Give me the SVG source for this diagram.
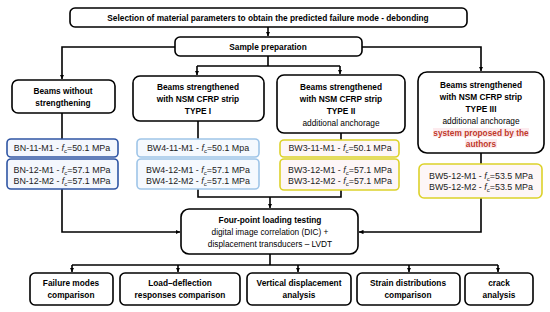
<svg xmlns="http://www.w3.org/2000/svg" width="550" height="312" viewBox="0 0 550 312">
<defs>
<marker id="ah" viewBox="0 0 6 6" refX="6" refY="3" markerWidth="4.5" markerHeight="4.5" orient="auto" markerUnits="userSpaceOnUse">
<path d="M0,0 L6,3 L0,6 z" fill="#000"/>
</marker>
<style>
.box{fill:#fff;stroke:#000;stroke-width:1.6}
.bn{fill:#f4f7fd;stroke:#2f55a4;stroke-width:1.6}
.bw4{fill:#f5f9fe;stroke:#9fc5e8;stroke-width:1.6}
.bw3{fill:#fdf6f7;stroke:#dcd22a;stroke-width:1.6}
.t{font-family:"Liberation Sans",Arial,sans-serif;font-size:8.3px;fill:#000;text-anchor:middle}
.b{font-weight:bold}
.v{font-family:"Liberation Sans",Arial,sans-serif;font-size:8.9px;fill:#222;text-anchor:middle}
.red{fill:#c0392b;font-weight:bold}
.c{fill:none;stroke:#000;stroke-width:1.6}
</style>
</defs>

<g id="connectors">
<path class="c" d="M268,27 V36" marker-end="url(#ah)"/>
<path class="c" d="M175,47 H62 V79" marker-end="url(#ah)"/>
<path class="c" d="M362,47 H481 V71" marker-end="url(#ah)"/>
<path class="c" d="M268,56 V66"/>
<path class="c" d="M197,66 H340"/>
<path class="c" d="M197,66 V75" marker-end="url(#ah)"/>
<path class="c" d="M340,66 V74" marker-end="url(#ah)"/>
<path class="c" d="M62,113 V139"/>
<path class="c" d="M198,121 V139"/>
<path class="c" d="M341,133 V140"/>
<path class="c" d="M481,153 V164"/>
<path class="c" d="M62,189 V232 H180" marker-end="url(#ah)"/>
<path class="c" d="M198,189 V197 H341 V190"/>
<path class="c" d="M270,197 V208" marker-end="url(#ah)"/>
<path class="c" d="M481,198 V232 H359" marker-end="url(#ah)"/>
<path class="c" d="M270,254 V265"/>
<path class="c" d="M72,265 H498"/>
<path class="c" d="M72,265 V272" marker-end="url(#ah)"/>
<path class="c" d="M178,265 V272" marker-end="url(#ah)"/>
<path class="c" d="M298,265 V272" marker-end="url(#ah)"/>
<path class="c" d="M409,265 V272" marker-end="url(#ah)"/>
<path class="c" d="M498,265 V272" marker-end="url(#ah)"/>
</g>

<g id="selection">
<rect class="box" x="70" y="8" width="397" height="19" rx="5"/>
<text class="t b" x="268" y="21" font-size="8.4">Selection of material parameters to obtain the predicted failure mode - debonding</text>
</g>

<g id="sample-prep">
<rect class="box" x="175" y="37" width="187" height="19" rx="5"/>
<text class="t b" x="268" y="50">Sample preparation</text>
</g>

<g id="beams-without">
<rect class="box" x="12" y="80" width="103" height="33" rx="6"/>
<text class="t b" x="63" y="94">Beams without</text>
<text class="t b" x="63" y="106">strengthening</text>
</g>

<g id="type1">
<rect class="box" x="133" y="76" width="131" height="45" rx="7"/>
<text class="t b" x="198" y="90">Beams strengthened</text>
<text class="t b" x="198" y="102">with NSM CFRP strip</text>
<text class="t b" x="198" y="114">TYPE I</text>
</g>

<g id="type2">
<rect class="box" x="277" y="75" width="128" height="58" rx="7"/>
<text class="t b" x="341" y="90">Beams strengthened</text>
<text class="t b" x="341" y="102">with NSM CFRP strip</text>
<text class="t b" x="341" y="114">TYPE II</text>
<text class="t" x="341" y="126">additional anchorage</text>
</g>

<g id="type3">
<rect class="box" x="418" y="72" width="126" height="81" rx="9"/>
<text class="t b" x="481" y="88">Beams strengthened</text>
<text class="t b" x="481" y="100">with NSM CFRP strip</text>
<text class="t b" x="481" y="112">TYPE III</text>
<text class="t" x="481" y="124">additional anchorage</text>
<rect x="433" y="128" width="96" height="9" fill="#fdebee"/>
<rect x="465" y="139" width="32" height="9" fill="#fdebee"/>
<text class="t red" x="481" y="136">system proposed by the</text>
<text class="t red" x="481" y="147">authors</text>
</g>

<g id="bn-values">
<rect class="bn" x="7" y="139" width="111" height="18" rx="4"/>
<text class="v" x="62" y="151">BN-11-M1 - <tspan font-style="italic">f</tspan><tspan font-size="6" dy="1.5">c</tspan><tspan dy="-1.5">=50.1 MPa</tspan></text>
<rect class="bn" x="7" y="159" width="111" height="30" rx="4"/>
<text class="v" x="62" y="173">BN-12-M1 - <tspan font-style="italic">f</tspan><tspan font-size="6" dy="1.5">c</tspan><tspan dy="-1.5">=57.1 MPa</tspan></text>
<text class="v" x="62" y="184">BN-12-M2 - <tspan font-style="italic">f</tspan><tspan font-size="6" dy="1.5">c</tspan><tspan dy="-1.5">=57.1 MPa</tspan></text>
</g>

<g id="bw4-values">
<rect class="bw4" x="137" y="139" width="122" height="18" rx="4"/>
<text class="v" x="198" y="151">BW4-11-M1 - <tspan font-style="italic">f</tspan><tspan font-size="6" dy="1.5">c</tspan><tspan dy="-1.5">=50.1 Mpa</tspan></text>
<rect class="bw4" x="137" y="159" width="122" height="30" rx="4"/>
<text class="v" x="198" y="173">BW4-12-M1 - <tspan font-style="italic">f</tspan><tspan font-size="6" dy="1.5">c</tspan><tspan dy="-1.5">=57.1 MPa</tspan></text>
<text class="v" x="198" y="184">BW4-12-M2 - <tspan font-style="italic">f</tspan><tspan font-size="6" dy="1.5">c</tspan><tspan dy="-1.5">=57.1 MPa</tspan></text>
</g>

<g id="bw3-values">
<rect class="bw3" x="280" y="140" width="119" height="17" rx="4"/>
<text class="v" x="340" y="151">BW3-11-M1 - <tspan font-style="italic">f</tspan><tspan font-size="6" dy="1.5">c</tspan><tspan dy="-1.5">=50.1 MPa</tspan></text>
<rect class="bw3" x="280" y="159" width="119" height="31" rx="4"/>
<text class="v" x="340" y="173">BW3-12-M1 - <tspan font-style="italic">f</tspan><tspan font-size="6" dy="1.5">c</tspan><tspan dy="-1.5">=57.1 MPa</tspan></text>
<text class="v" x="340" y="184">BW3-12-M2 - <tspan font-style="italic">f</tspan><tspan font-size="6" dy="1.5">c</tspan><tspan dy="-1.5">=57.1 MPa</tspan></text>
</g>

<g id="bw5-values">
<rect class="bw3" x="419" y="164" width="123" height="34" rx="5"/>
<text class="v" x="481" y="179">BW5-12-M1 - <tspan font-style="italic">f</tspan><tspan font-size="6" dy="1.5">c</tspan><tspan dy="-1.5">=53.5 MPa</tspan></text>
<text class="v" x="481" y="190">BW5-12-M2 - <tspan font-style="italic">f</tspan><tspan font-size="6" dy="1.5">c</tspan><tspan dy="-1.5">=53.5 MPa</tspan></text>
</g>

<g id="four-point">
<rect class="box" x="181" y="209" width="177" height="45" rx="8"/>
<text class="t b" x="270" y="223">Four-point loading testing</text>
<text class="t" x="270" y="235">digital image correlation (DIC) +</text>
<text class="t" x="270" y="247">displacement transducers – LVDT</text>
</g>

<g id="failure-modes">
<rect class="box" x="30" y="273" width="83" height="32" rx="5"/>
<text class="t b" x="71" y="286">Failure modes</text>
<text class="t b" x="71" y="298">comparison</text>
</g>

<g id="load-deflection">
<rect class="box" x="120" y="273" width="120" height="32" rx="5"/>
<text class="t b" x="180" y="286">Load–deflection</text>
<text class="t b" x="180" y="298">responses comparison</text>
</g>

<g id="vertical-displacement">
<rect class="box" x="247" y="273" width="104" height="32" rx="5"/>
<text class="t b" x="299" y="286">Vertical displacement</text>
<text class="t b" x="299" y="298">analysis</text>
</g>

<g id="strain">
<rect class="box" x="357" y="273" width="103" height="32" rx="5"/>
<text class="t b" x="408" y="286">Strain distributions</text>
<text class="t b" x="408" y="298">comparison</text>
</g>

<g id="crack">
<rect class="box" x="465" y="273" width="68" height="32" rx="5"/>
<text class="t b" x="499" y="286">crack</text>
<text class="t b" x="499" y="298">analysis</text>
</g>
</svg>
